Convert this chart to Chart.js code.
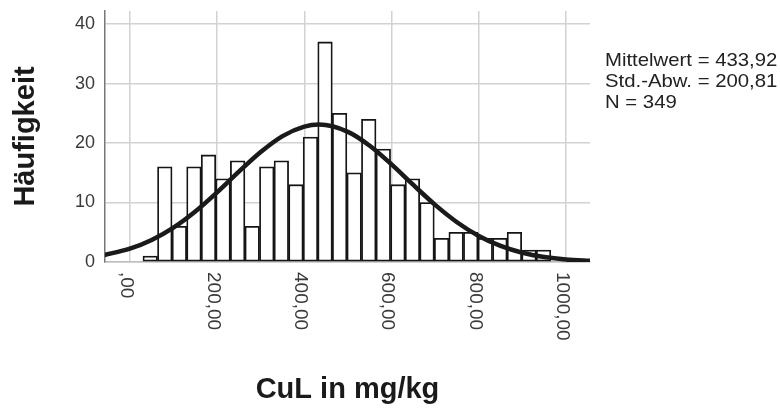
<!DOCTYPE html>
<html>
<head>
<meta charset="utf-8">
<script src="https://cdn.jsdelivr.net/npm/chart.js@4.4.0/dist/chart.umd.min.js"></script>
<style>
    html, body { margin: 0; padding: 0; background: #fff; }
    #wrap { width: 780px; height: 410px; }
</style>
</head>
<body>
<div id="wrap"><canvas id="myChart" width="780" height="410"></canvas></div>
<script>
"use strict";

// histogram bins (CuL in mg/kg), bin width ~33.4
const binCenters = [46.7, 80.1, 113.5, 146.9, 180.3, 213.7, 247.1, 280.5, 313.9, 347.3,
    380.7, 414.1, 447.5, 480.9, 514.3, 547.7, 581.1, 614.5, 647.9, 681.3,
    714.7, 748.1, 781.5, 814.9, 848.3, 881.7, 915.1, 948.5];
const counts = [1, 16, 6, 16, 18, 14, 17, 6, 16, 17,
    13, 21, 37, 25, 15, 24, 19, 13, 14, 10,
    4, 5, 5, 4, 4, 5, 2, 2];

// normal curve
const curveX = [-60, 0, 50, 100, 150, 200, 250, 300, 350, 400, 434, 500,
    550, 600, 650, 700, 750, 800, 850, 900, 950, 1000, 1060];
const curveY = [1.15, 2.24, 3.71, 5.79, 8.5, 11.72, 15.19, 18.49, 21.17, 22.77, 23.1, 21.88,
    19.55, 16.41, 12.95, 9.6, 6.69, 4.38, 2.7, 1.56, 0.85, 0.43, 0.18];

const xTicks = [0, 200, 400, 600, 800, 1000];
const xTickLabels = [",00", "200,00", "400,00", "600,00", "800,00", "1000,00"];
const yTicks = [0, 10, 20, 30, 40];
const statsLines = ["Mittelwert = 433,92", "Std.-Abw. = 200,81", "N = 349"];

const gridColor = "#d2d2d2";
const fontFamily = "'Liberation Sans', Arial, sans-serif";

// x tick labels read top-to-bottom, plus the stats box on the right
const extraText = {
    id: "extraText",
    afterDraw(chart) {
        const ctx = chart.ctx;
        const xs = chart.scales.x;
        ctx.save();
        ctx.fillStyle = "#3a3a3a";
        ctx.font = `19px ${fontFamily}`;
        ctx.textAlign = "left";
        ctx.textBaseline = "middle";
        xTicks.forEach((v, i) => {
            ctx.save();
            ctx.translate(xs.getPixelForValue(v) - 4, chart.chartArea.bottom + 10);
            ctx.rotate(Math.PI / 2);
            ctx.fillText(xTickLabels[i], 0, 0);
            ctx.restore();
        });

        ctx.fillStyle = "#222";
        ctx.textBaseline = "alphabetic";
        statsLines.forEach((t, i) => {
            ctx.save();
            ctx.translate(605, 66 + i * 21);
            ctx.scale(1.07, 1);
            ctx.fillText(t, 0, 0);
            ctx.restore();
        });
        ctx.restore();
    }
};

const renderChart = () => {
    const ctx = document.getElementById("myChart");

    const chart = new Chart(ctx, {
        type: "bar",
        data: {
            datasets: [{
                type: "line",
                data: curveX.map((x, i) => ({ x: x, y: curveY[i] })),
                borderColor: "#1a1a1a",
                borderWidth: 4.5,
                pointRadius: 0,
                cubicInterpolationMode: "monotone",
                fill: false,
                clip: 0,
                order: 0
            }, {
                type: "bar",
                data: binCenters.map((x, i) => ({ x: x, y: counts[i] })),
                backgroundColor: "#ffffff",
                borderColor: "#151515",
                borderWidth: 1.8,
                borderSkipped: false,
                barPercentage: 1,
                categoryPercentage: 1,
                order: 1
            }]
        },
        options: {
            responsive: false,
            animation: false,
            devicePixelRatio: 1,
            layout: { padding: { top: 11, right: 190, left: 0, bottom: 0 } },
            plugins: {
                legend: { display: false },
                tooltip: { enabled: false }
            },
            scales: {
                x: {
                    type: "linear",
                    min: -57,
                    max: 1055,
                    offset: false,
                    afterBuildTicks: s => { s.ticks = xTicks.map(v => ({ value: v })); },
                    afterFit: s => {
                        s.height = 148;
                        s.paddingLeft = 0;
                        s.paddingRight = 0;
                    },
                    ticks: { display: false },
                    grid: { color: gridColor, lineWidth: 1.5, offset: false, drawTicks: false },
                    border: { color: "#bdbdbd", width: 1.5 },
                    title: {
                        display: true,
                        text: "CuL in mg/kg",
                        color: "#1a1a1a",
                        font: { family: fontFamily, size: 29, weight: "bold" },
                        padding: { top: 0, bottom: 3 }
                    }
                },
                y: {
                    min: 0,
                    max: 42.2,
                    afterBuildTicks: s => { s.ticks = yTicks.map(v => ({ value: v })); },
                    afterFit: s => {
                        s.width = 105;
                        s.paddingTop = 0;
                        s.paddingBottom = 0;
                    },
                    ticks: {
                        color: "#3a3a3a",
                        padding: 10,
                        font: { family: fontFamily, size: 18 }
                    },
                    grid: { color: gridColor, lineWidth: 1.5, drawTicks: false },
                    border: { color: "#777", width: 1.5 },
                    title: {
                        display: true,
                        text: "Häufigkeit",
                        color: "#1a1a1a",
                        font: { family: fontFamily, size: 29, weight: "bold" },
                        padding: { top: 9, bottom: 0 }
                    }
                }
            }
        },
        plugins: [extraText]
    });
    console.log("chartArea:", JSON.stringify(chart.chartArea));
};

document.addEventListener("DOMContentLoaded", renderChart);
</script>
</body>
</html>
